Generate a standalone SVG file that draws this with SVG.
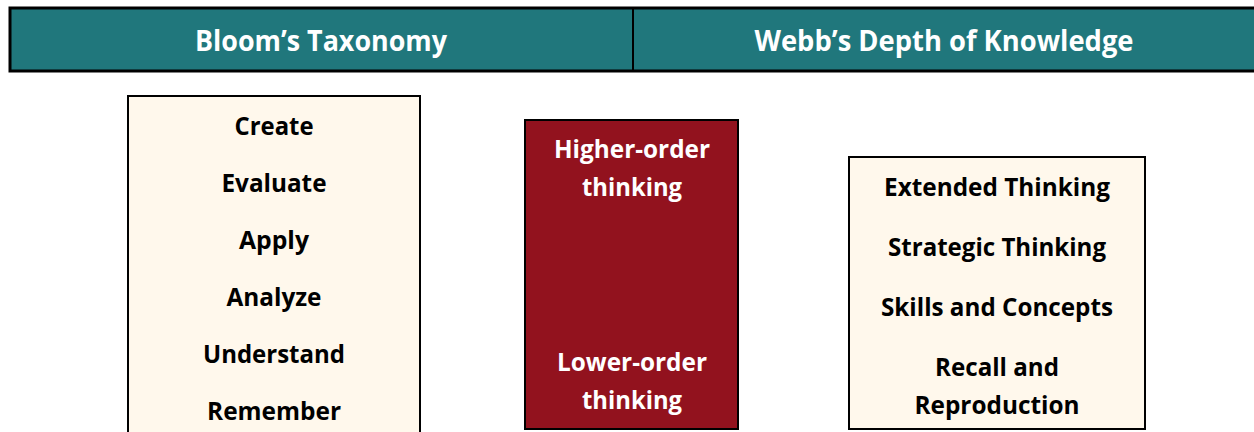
<svg xmlns="http://www.w3.org/2000/svg" width="1254" height="432" viewBox="0 0 1254 432">
<style>
.t{font-family:"Open Sans","Liberation Sans",sans-serif;font-weight:700;text-anchor:middle}
.hd{font-size:28px;fill:#ffffff}
.bk{font-size:25px;fill:#000000}
.wt{font-size:25px;fill:#ffffff}
.cream{fill:#FFF8EC;stroke:#000;stroke-width:2}
</style>
<rect width="1254" height="432" fill="#ffffff"/>
<g id="header">
<rect x="10" y="8" width="1260" height="63" fill="#20777C" stroke="#000" stroke-width="3"/>
<line x1="633" y1="8" x2="633" y2="71" stroke="#000" stroke-width="2"/>
<text class="t hd" x="321" y="51" textLength="252" lengthAdjust="spacingAndGlyphs">Bloom’s Taxonomy</text>
<text class="t hd" x="944" y="51" textLength="379" lengthAdjust="spacingAndGlyphs">Webb’s Depth of Knowledge</text>
</g>
<g id="bloom">
<rect class="cream" x="128" y="96" width="292" height="345"/>
<text class="t bk" x="274" y="135" textLength="79" lengthAdjust="spacingAndGlyphs">Create</text>
<text class="t bk" x="274" y="192" textLength="105" lengthAdjust="spacingAndGlyphs">Evaluate</text>
<text class="t bk" x="274" y="249" textLength="70" lengthAdjust="spacingAndGlyphs">Apply</text>
<text class="t bk" x="274" y="306" textLength="95" lengthAdjust="spacingAndGlyphs">Analyze</text>
<text class="t bk" x="274" y="363" textLength="142" lengthAdjust="spacingAndGlyphs">Understand</text>
<text class="t bk" x="274" y="420" textLength="134" lengthAdjust="spacingAndGlyphs">Remember</text>
</g>
<g id="order">
<rect x="525" y="120" width="213" height="309" fill="#92121E" stroke="#000" stroke-width="2"/>
<text class="t wt" x="632" y="158" textLength="156" lengthAdjust="spacingAndGlyphs">Higher-order</text>
<text class="t wt" x="632" y="196" textLength="100" lengthAdjust="spacingAndGlyphs">thinking</text>
<text class="t wt" x="632" y="371" textLength="150" lengthAdjust="spacingAndGlyphs">Lower-order</text>
<text class="t wt" x="632" y="409" textLength="100" lengthAdjust="spacingAndGlyphs">thinking</text>
</g>
<g id="webb">
<rect class="cream" x="849" y="157" width="296" height="272"/>
<text class="t bk" x="997" y="196" textLength="226" lengthAdjust="spacingAndGlyphs">Extended Thinking</text>
<text class="t bk" x="997" y="256" textLength="218" lengthAdjust="spacingAndGlyphs">Strategic Thinking</text>
<text class="t bk" x="997" y="316" textLength="232" lengthAdjust="spacingAndGlyphs">Skills and Concepts</text>
<text class="t bk" x="997" y="376" textLength="124" lengthAdjust="spacingAndGlyphs">Recall and</text>
<text class="t bk" x="997" y="414" textLength="165" lengthAdjust="spacingAndGlyphs">Reproduction</text>
</g>
<g id="connectors"/>
</svg>
